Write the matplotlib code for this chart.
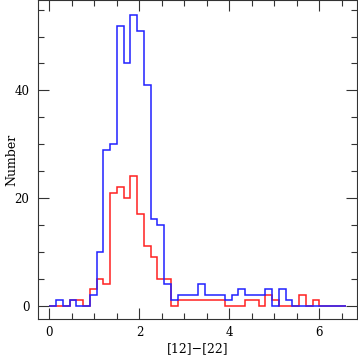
import numpy as np
import matplotlib
matplotlib.use("Agg")
import matplotlib.pyplot as plt
from matplotlib.ticker import MultipleLocator

# histogram of [12]-[22] colours, bins of 0.15 starting at 0
bin_width = 0.15
n_bins = 44

# all sources (blue)
counts_all = [0, 1, 0, 1, 0, 0, 2, 10, 29, 30, 52, 45, 54, 51, 41, 16, 15, 4,
              1, 2, 2, 2, 4, 2, 2, 2, 1, 2, 3, 2, 2, 2, 3, 0, 3, 1,
              0, 0, 0, 0, 0, 0, 0, 0]
# subsample (red)
counts_sub = [0, 0, 0, 1, 1, 0, 3, 5, 4, 21, 22, 20, 24, 17, 11, 9, 5, 5,
              0, 1, 1, 1, 1, 1, 1, 1, 0, 0, 0, 1, 1, 0, 2, 1, 0, 0,
              0, 2, 0, 1, 0, 0, 0, 0]

edges = np.arange(n_bins + 1) * bin_width

plt.rcParams['font.family'] = ['DejaVu Serif']
fig = plt.figure(figsize=(3.58, 3.55), dpi=100)
ax = fig.add_axes([0.1053, 0.1014, 0.8911, 0.8972])

ax.stairs(counts_sub, edges, color='#ff2020', lw=1.1)
ax.stairs(counts_all, edges, color='#2020ff', lw=1.1)

ax.set_xlim(-0.26, 6.83)
ax.set_ylim(-2.5, 56.7)

ax.xaxis.set_major_locator(MultipleLocator(2))
ax.xaxis.set_minor_locator(MultipleLocator(0.5))
ax.yaxis.set_major_locator(MultipleLocator(20))
ax.yaxis.set_minor_locator(MultipleLocator(5))
ax.tick_params(which='both', direction='in', top=True, right=True,
               color='#333333', width=0.8, labelsize=8.5, pad=5)
ax.tick_params(which='major', length=8)
ax.tick_params(which='minor', length=4)
ax.tick_params(axis='y', pad=6)
for s in ax.spines.values():
    s.set_linewidth(0.8)
    s.set_color('#333333')

ax.set_xlabel('[12]\u2212[22]', fontsize=9, labelpad=2)
ax.set_ylabel('Number', fontsize=9, va='center')
ax.yaxis.set_label_coords(-0.082, 0.5)

fig.savefig('out.png', dpi=100)
